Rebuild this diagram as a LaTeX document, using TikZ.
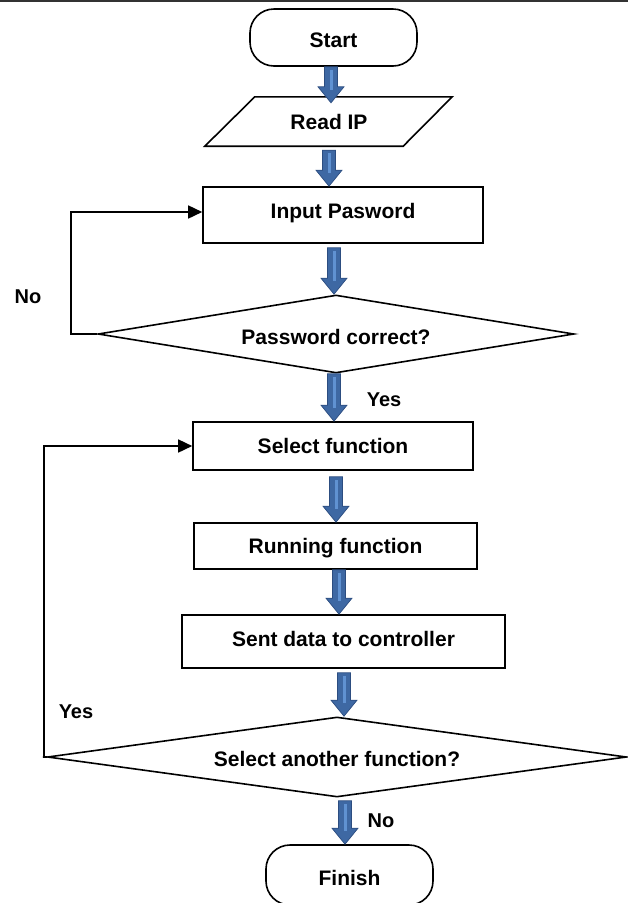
\documentclass[tikz,border=0pt]{standalone}
\usepackage{fontspec}
\setmainfont{Liberation Sans}
\usetikzlibrary{shapes.geometric,arrows.meta,calc}

\definecolor{arrowblue}{RGB}{62,104,163}
\definecolor{arrowedge}{RGB}{44,77,128}
\definecolor{arrowlight}{RGB}{96,146,210}

% Block arrow between two anchors, drawn down the column x (in pt)
\newcommand\flowarrow[3]{%
  \path[draw=arrowedge, fill=arrowblue, line width=0.7pt, line join=miter]
    let \p1=(#2), \p2=(#3) in
    (#1pt-6.5pt,\y1) -- (#1pt+6.5pt,\y1) -- (#1pt+6.5pt,\y2+16pt)
    -- (#1pt+13pt,\y2+16pt) -- (#1pt,\y2) -- (#1pt-13pt,\y2+16pt)
    -- (#1pt-6.5pt,\y2+16pt) -- cycle;
  \path[fill=arrowlight]
    let \p1=(#2), \p2=(#3) in
    (#1pt-1.5pt,\y1-3pt) rectangle (#1pt+1.5pt,\y2+13pt);
}

\begin{document}
\begin{tikzpicture}[x=1pt,y=-1pt,
  every node/.style={font=\fontsize{21}{24}\selectfont\bfseries, inner sep=0pt},
  % vertical placement of the caps inside a shape: cap=<text height>
  cap/.style={text depth=0pt, text height=#1},
  box/.style={draw, line width=1.6pt, rectangle},
  term/.style={draw, line width=1.6pt, rectangle, rounded corners=24pt},
  decision/.style={draw, line width=1.6pt, diamond, aspect=6},
  lbl/.style={font=\fontsize{20}{24}\selectfont\bfseries},
  loopline/.style={line width=1.6pt, -{Triangle[length=14pt,width=13pt]}},
]
\useasboundingbox (0,0) rectangle (628,903);

% rule along the top edge
\draw[line width=2.4pt, black!80] (0,1.2) -- (628,1.2);

% process steps
\node[term, cap=20.3pt, minimum width=167pt, minimum height=57pt] (start) at (333.5,37.5) {Start};
\node[cap=15.8pt, minimum width=198pt, minimum height=49pt] (read) at (329,121.5) {Read IP};
\draw[line width=1.6pt, line join=miter]
  ($(read.north west)+(25,0)$) -- ($(read.north east)+(24,0)$)
  -- ($(read.south east)+(-25,0)$) -- ($(read.south west)+(-25,0)$) -- cycle;
\node[box, cap=6.3pt, minimum width=280pt, minimum height=56pt] (input) at (343,215) {Input Pasword};
\node[decision, cap=21.3pt, minimum width=476pt, minimum height=78pt] (dec1) at (336,334) {Password correct?};
\node[box, cap=15.3pt, minimum width=280pt, minimum height=48pt] (select) at (333,446) {Select function};
\node[box, cap=14.3pt, minimum width=283pt, minimum height=46pt] (running) at (335.5,546) {Running function};
\node[box, cap=10.3pt, minimum width=323pt, minimum height=53pt] (sent) at (343.5,641.5) {Sent data to controller};
\node[decision, cap=18.3pt, minimum width=579pt, minimum height=80pt] (dec2) at (337,757) {Select another function?};
\node[term, cap=20.3pt, minimum width=167pt, minimum height=60pt] (finish) at (349.5,875) {Finish};

% branch labels
\node[lbl] (nolbl1) at (28,297) {No};
\node[lbl] (yeslbl1) at (384,400) {Yes};
\node[lbl] (yeslbl2) at (76,712) {Yes};
\node[lbl] (nolbl2) at (381,821) {No};

% main flow
\flowarrow{331}{start.south}{[yshift=-6pt]read.north}
\flowarrow{329}{[yshift=-4pt]read.south}{input.north}
\flowarrow{334}{[yshift=-4pt]input.south}{dec1.north}
\flowarrow{334}{dec1.south}{select.north}
\flowarrow{336}{[yshift=-6pt]select.south}{running.north}
\flowarrow{339}{running.south}{sent.north}
\flowarrow{344}{[yshift=-4pt]sent.south}{dec2.north}
\flowarrow{345}{[yshift=-3pt]dec2.south}{finish.north}

% feedback loops
\draw[loopline] (dec1.west) -- ++(-26,0) |- ([yshift=3pt]input.west);
\draw[loopline] (dec2.west) -- ++(-3,0) |- (select.west);
\end{tikzpicture}
\end{document}
